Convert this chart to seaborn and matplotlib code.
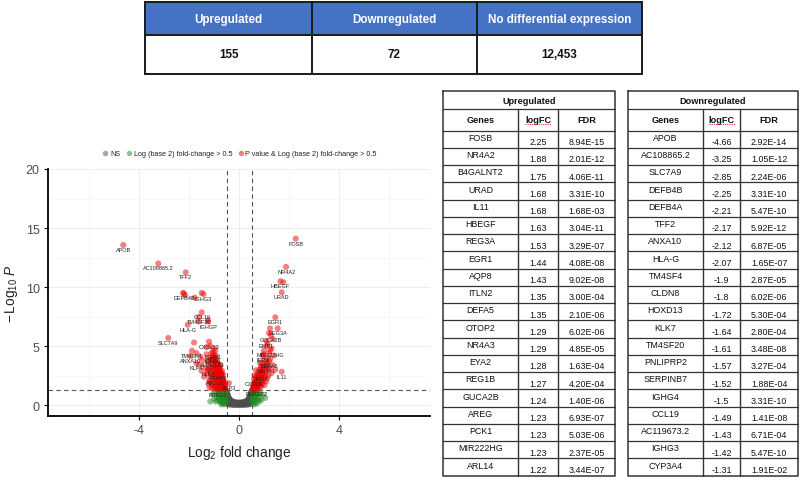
import matplotlib
matplotlib.use("Agg")
import matplotlib.pyplot as plt
import seaborn as sns
import pandas as pd
from matplotlib.patches import Rectangle

# ---------------- data ----------------
summary_headers = ["Upregulated", "Downregulated", "No differential expression"]
summary_values = ["155", "72", "12,453"]

up_genes = ["FOSB", "NR4A2", "B4GALNT2", "URAD", "IL11", "HBEGF", "REG3A", "EGR1", "AQP8", "ITLN2",
            "DEFA5", "OTOP2", "NR4A3", "EYA2", "REG1B", "GUCA2B", "AREG", "PCK1", "MIR222HG", "ARL14"]
up_logfc = ["2.25", "1.88", "1.75", "1.68", "1.68", "1.63", "1.53", "1.44", "1.43", "1.35",
            "1.35", "1.29", "1.29", "1.28", "1.27", "1.24", "1.23", "1.23", "1.23", "1.22"]
up_fdr = ["8.94E-15", "2.01E-12", "4.06E-11", "3.31E-10", "1.68E-03", "3.04E-11", "3.29E-07", "4.08E-08",
          "9.02E-08", "3.00E-04", "2.10E-06", "6.02E-06", "4.85E-05", "1.63E-04", "4.20E-04", "1.40E-06",
          "6.93E-07", "5.03E-06", "2.37E-05", "3.44E-07"]

down_genes = ["APOB", "AC108865.2", "SLC7A9", "DEFB4B", "DEFB4A", "TFF2", "ANXA10", "HLA-G", "TM4SF4", "CLDN8",
              "HOXD13", "KLK7", "TM4SF20", "PNLIPRP2", "SERPINB7", "IGHG4", "CCL19", "AC119673.2", "IGHG3", "CYP3A4"]
down_logfc = ["-4.66", "-3.25", "-2.85", "-2.25", "-2.21", "-2.17", "-2.12", "-2.07", "-1.9", "-1.8",
              "-1.72", "-1.64", "-1.61", "-1.57", "-1.52", "-1.5", "-1.49", "-1.43", "-1.42", "-1.31"]
down_fdr = ["2.92E-14", "1.05E-12", "2.24E-06", "3.31E-10", "5.47E-10", "5.92E-12", "6.87E-05", "1.65E-07",
            "2.87E-05", "6.02E-06", "5.30E-04", "2.80E-04", "3.48E-08", "3.27E-04", "1.88E-04", "3.31E-10",
            "1.41E-08", "6.71E-04", "5.47E-10", "1.91E-02"]

# labelled genes in the volcano plot (log2FC, -log10 P)
label_genes = ["APOB", "AC108865.2", "TFF2", "DEFB4B", "IGHG3", "CCL19", "TM4SF20",
               "IGHGP", "HLA-G", "SLC7A9", "CXCL13", "TM4SF4", "IGHG1", "ANXA10", "IGHA1", "KLF4",
               "ALDH1A1", "KLK7", "FFAR2", "ABCG2", "ACP3", "PRKG2",
               "FOSB", "NR4A2", "HBEGF", "URAD", "EGR1", "REG3A", "GUCA2B", "EMP1", "MIR222HG",
               "IER3", "DEFA6", "NR4A1", "IL11", "IFI27", "CXCL8", "RNASE2"]
label_x = [-4.63, -3.23, -2.13, -2.20, -1.42, -1.49, -1.61,
           -1.24, -2.05, -2.83, -1.20, -1.88, -1.05, -1.95, -1.05, -1.70,
           -1.05, -1.24, -0.85, -0.95, -0.40, -0.85,
           2.27, 1.88, 1.66, 1.71, 1.45, 1.55, 1.27, 1.10, 1.25,
           0.95, 1.20, 1.10, 1.71, 0.90, 0.60, 0.70]
label_y = [13.56, 12.0, 11.24, 9.45, 9.40, 7.85, 7.45,
           7.06, 6.80, 5.68, 5.37, 4.60, 4.50, 4.15, 4.15, 3.55,
           3.85, 3.05, 2.75, 2.30, 1.85, 1.30,
           14.10, 11.70, 10.50, 9.55, 7.43, 6.50, 5.90, 5.45, 4.65,
           4.20, 3.70, 3.30, 2.82, 2.60, 2.20, 1.35]

# other significant genes (drawn unlabelled)
sig_x = [-2.24, -2.16, -1.49, -1.77,
         -0.55, -0.57, -0.60, -0.60, -0.63, -0.65, -0.66, -0.68, -0.70, -0.70, -0.72, -0.73, -0.75, -0.76,
         -0.78, -0.78, -0.80, -0.80, -0.82, -0.83, -0.85, -0.86, -0.87, -0.88, -0.90, -0.90, -0.92, -0.93,
         -0.95, -0.95, -0.97, -0.98, -1.00, -1.00, -1.02, -1.04, -1.05, -1.07, -1.08, -1.10, -1.10, -1.12,
         -1.15, -1.17, -1.20, -1.22, -1.25, -1.28, -1.30, -1.35, -1.40, -1.45, -1.50, -1.55, -1.60, -1.70,
         -1.30, -1.15, -0.95, -1.80, -1.24, -1.62, -0.62, -0.68, -0.74, -0.58, -0.66, -0.84, -0.92, -1.00,
         -0.56, -0.59, -0.61, -0.64, -0.67, -0.69, -0.71, -0.74, -0.77, -0.79, -0.81, -0.84, -0.86, -0.89,
         -0.91, -0.94, -0.96, -0.99, -1.01, -1.03, -1.06, -1.09, -1.11, -1.13, -1.16, -1.19, -1.21, -1.26,
         -0.62, -0.72, -0.82, -0.88, -0.98, -1.08, -1.18, -0.65, -0.76, -0.94,
         0.55, 0.57, 0.60, 0.60, 0.63, 0.65, 0.66, 0.68, 0.70, 0.72, 0.74, 0.75, 0.77, 0.78, 0.80, 0.82,
         0.83, 0.85, 0.87, 0.88, 0.90, 0.92, 0.93, 0.95, 0.97, 1.00, 1.00, 1.03, 1.05, 1.08, 1.10, 1.12,
         1.15, 1.18, 1.20, 1.22, 1.25, 1.30, 1.30, 1.35, 1.40, 1.45, 1.00, 1.15, 1.35, 1.20, 1.24, 1.10,
         1.77, 0.58, 0.64, 0.70, 0.62,
         0.56, 0.59, 0.61, 0.64, 0.67, 0.69, 0.71, 0.73, 0.76, 0.79, 0.81, 0.84, 0.86, 0.89, 0.91, 0.94,
         0.96, 0.99, 1.02, 1.06, 1.09, 1.13, 1.17, 0.62, 0.68, 0.75, 0.84, 0.98]
sig_y = [9.50, 9.30, 9.50, 9.10,
         1.35, 1.50, 1.40, 1.70, 1.55, 1.90, 1.35, 2.10, 1.60, 2.40, 1.80, 2.70, 2.00, 1.45,
         2.30, 3.00, 2.60, 1.70, 3.30, 2.00, 2.90, 1.50, 3.60, 2.40, 3.10, 1.90, 3.90, 2.70,
         3.40, 2.20, 1.60, 3.70, 2.90, 4.20, 2.00, 3.20, 2.50, 3.80, 1.70, 2.80, 4.40, 3.50,
         2.20, 4.00, 3.00, 1.80, 3.60, 2.60, 4.30, 3.20, 2.40, 3.80, 2.90, 4.10, 3.40, 4.40,
         4.90, 5.00, 4.60, 5.30, 7.20, 7.10, 2.20, 2.90, 3.40, 1.95, 2.60, 3.50, 4.20, 4.80,
         1.45, 1.65, 1.85, 2.05, 2.25, 1.50, 2.55, 2.85, 1.75, 2.60, 3.15, 2.15, 3.45, 2.75,
         2.35, 3.05, 3.75, 2.55, 3.35, 1.85, 3.05, 2.35, 3.85, 2.65, 3.25, 2.05, 3.75, 2.85,
         1.60, 1.45, 1.40, 1.55, 1.45, 1.40, 1.50, 2.60, 3.20, 4.00,
         1.35, 1.55, 1.40, 1.80, 1.60, 2.00, 1.40, 2.20, 1.70, 2.50, 1.90, 1.45, 2.30, 2.80, 2.00, 3.00,
         1.60, 2.50, 3.30, 2.10, 2.80, 1.80, 3.50, 2.40, 3.00, 2.20, 3.80, 2.70, 3.30, 2.00, 2.90, 4.00,
         3.50, 2.50, 4.40, 3.10, 3.90, 2.70, 4.80, 3.40, 4.20, 3.00, 4.60, 5.20, 5.60, 6.10, 6.50, 5.00,
         10.40, 1.30, 1.85, 2.05, 1.50,
         1.45, 1.65, 1.90, 1.50, 1.75, 2.35, 2.05, 1.60, 2.60, 1.75, 2.35, 1.85, 2.65, 1.55, 3.15, 2.05,
         2.65, 3.25, 1.70, 2.45, 3.55, 2.25, 3.15, 2.50, 2.95, 1.55, 3.60, 4.30]

green_x = [-0.52, -0.53, -0.55, -0.55, -0.57, -0.58, -0.60, -0.60, -0.62, -0.63, -0.65, -0.66, -0.68, -0.70,
           -0.72, -0.73, -0.75, -0.77, -0.80, -0.82, -0.85, -0.88, -0.90, -0.95, -1.00, -1.05, -1.15, -0.70,
           -0.58, -0.51, -0.54, -0.64, -0.56, -0.59, -0.61, -0.67, -0.71, -0.78, -0.83, -0.93,
           0.52, 0.53, 0.55, 0.56, 0.58, 0.60, 0.62, 0.63, 0.65, 0.67, 0.70, 0.72, 0.75, 0.78, 0.80, 0.85,
           0.90, 0.95, 1.05, 0.60, 0.70, 0.51, 0.54, 0.57, 0.61, 0.66, 0.73, 0.82]
green_y = [0.30, 0.80, 0.50, 1.10, 0.20, 0.70, 1.00, 0.40, 0.90, 0.15, 0.60, 1.20, 0.35, 0.80,
           1.10, 0.50, 0.25, 0.90, 0.60, 1.20, 0.40, 1.00, 0.70, 1.15, 0.50, 0.90, 0.30, 0.05,
           0.05, 1.25, 0.95, 0.45, 0.62, 0.88, 0.25, 1.00, 0.20, 0.40, 0.85, 0.30,
           0.35, 0.90, 0.60, 1.15, 0.20, 0.75, 1.00, 0.45, 0.90, 0.25, 0.65, 1.20, 0.40, 0.95, 0.60, 1.10,
           0.45, 0.85, 0.60, 0.05, 0.10, 1.25, 0.80, 0.50, 1.12, 0.55, 0.85, 0.30]

gray_x = [-0.49, -0.48, -0.47, -0.46, -0.45, -0.44, -0.43, -0.42, -0.41, -0.40, -0.38, -0.36, -0.34, -0.32,
          -0.30, -0.27, -0.24, -0.21, -0.18, -0.15, -0.12, -0.09, -0.06, -0.03, 0.00, 0.03, 0.06, 0.09,
          0.12, 0.15, 0.18, 0.21, 0.24, 0.27, 0.30, 0.32, 0.34, 0.36, 0.38, 0.40, 0.41, 0.42, 0.43, 0.44,
          0.45, 0.46, 0.47, 0.48, 0.49,
          -0.48, -0.44, -0.40, -0.36, -0.32, -0.28, -0.24, -0.20, -0.16, -0.12, -0.08, -0.04, 0.00, 0.04,
          0.08, 0.12, 0.16, 0.20, 0.24, 0.28, 0.32, 0.36, 0.40, 0.44, 0.48,
          -0.49, -0.48, -0.47, -0.46, -0.44, -0.42, 0.42, 0.44, 0.46, 0.47, 0.48, 0.49,
          -0.30, -0.20, -0.10, 0.00, 0.10, 0.20, 0.30]
gray_y = [1.18, 1.05, 0.98, 0.90, 0.82, 0.76, 0.70, 0.62, 0.58, 0.55, 0.50, 0.45, 0.40, 0.37,
          0.35, 0.31, 0.28, 0.26, 0.24, 0.22, 0.21, 0.21, 0.20, 0.20, 0.20, 0.20, 0.20, 0.21,
          0.21, 0.22, 0.24, 0.26, 0.28, 0.31, 0.35, 0.37, 0.40, 0.45, 0.50, 0.55, 0.58, 0.62, 0.70, 0.76,
          0.82, 0.90, 0.98, 1.05, 1.18,
          0.12, 0.08, 0.06, 0.05, 0.04, 0.03, 0.03, 0.02, 0.02, 0.02, 0.02, 0.02, 0.02, 0.02,
          0.02, 0.02, 0.02, 0.02, 0.03, 0.03, 0.04, 0.05, 0.06, 0.08, 0.12,
          0.90, 0.70, 0.50, 0.35, 0.30, 0.20, 0.20, 0.30, 0.35, 0.50, 0.70, 0.90,
          0.18, 0.12, 0.10, 0.10, 0.10, 0.12, 0.18]

group_labels = ["NS", "Log (base 2) fold-change > 0.5", "P value & Log (base 2) fold-change > 0.5"]
group_colors = ["#4D4D4D", "#228B22", "#EE0000"]

# ---------------- figure ----------------
sns.set_theme(style="white")
plt.rcParams["font.family"] = ["Liberation Sans", "DejaVu Sans"]
plt.rcParams["mathtext.fontset"] = "custom"
plt.rcParams["mathtext.rm"] = "Liberation Sans"
plt.rcParams["mathtext.it"] = "Liberation Sans:italic"

W, H = 800, 481
fig = plt.figure(figsize=(W / 100, H / 100), dpi=100)
fig.patch.set_facecolor("white")

def fx(px):
    return px / W

def fy(py):
    return 1 - py / H

# volcano axes
ax_l, ax_r, ax_t, ax_b = 48, 430, 170, 417
ax = fig.add_axes([fx(ax_l), fy(ax_b), fx(ax_r - ax_l), (ax_b - ax_t) / H])

df = pd.concat([
    pd.DataFrame({"log2FC": gray_x, "nlogP": gray_y, "group": group_labels[0]}),
    pd.DataFrame({"log2FC": green_x, "nlogP": green_y, "group": group_labels[1]}),
    pd.DataFrame({"log2FC": sig_x + label_x, "nlogP": sig_y + label_y, "group": group_labels[2]}),
], ignore_index=True)

sns.scatterplot(data=df, x="log2FC", y="nlogP", hue="group", hue_order=group_labels,
                palette=dict(zip(group_labels, group_colors)), s=19, alpha=0.5,
                linewidth=0, ax=ax, zorder=3)

for g, x, y in zip(label_genes, label_x, label_y):
    ax.annotate(g, (x, y), xytext=(0, -3.2), textcoords="offset points", ha="center", va="center",
                fontsize=4.0, color="#222222", zorder=4)

ax.set_xlim(-7.64, 7.64)
ax.set_ylim(-0.93, 20.0)
ax.set_xticks([-4, 0, 4])
ax.set_xticklabels(["-4", "0", "4"])
ax.set_yticks([0, 5, 10, 15, 20])
ax.set_xticks([-6, -2, 2, 6], minor=True)
ax.set_yticks([2.5, 7.5, 12.5, 17.5], minor=True)
ax.grid(True, which="major", color="#EBEBEB", linewidth=0.6, zorder=0)
ax.grid(True, which="minor", color="#F4F4F4", linewidth=0.4, zorder=0)
ax.set_axisbelow(True)
for s in ["top", "right"]:
    ax.spines[s].set_visible(False)
for s in ["left", "bottom"]:
    ax.spines[s].set_color("black")
    ax.spines[s].set_linewidth(1.3)
ax.tick_params(axis="both", which="major", length=3, width=0.8, color="black", labelsize=9,
               labelcolor="#4D4D4D", pad=3, left=True, bottom=True)
ax.tick_params(axis="both", which="minor", length=0)

ax.axvline(-0.5, color="#555555", linestyle=(0, (4, 3)), linewidth=0.8, zorder=2)
ax.axvline(0.5, color="#555555", linestyle=(0, (4, 3)), linewidth=0.8, zorder=2)
ax.axhline(1.3, color="#555555", linestyle=(0, (4, 3)), linewidth=0.8, zorder=2)

ax.set_xlabel(r"$\mathrm{Log}_{2}$ fold change", fontsize=9.8, color="#222222", labelpad=5)
ax.set_ylabel(r"$-\,\mathrm{Log}_{10}\ \mathit{P}$", fontsize=9.8, color="#222222")
ax.yaxis.set_label_coords(-0.074, 0.5)

handles, labels = ax.get_legend_handles_labels()
leg = ax.legend(handles, labels, loc="lower center", bbox_to_anchor=(0.5, 1.035), ncol=3,
                frameon=False, fontsize=5.2, handletextpad=0.05, columnspacing=0.6,
                markerscale=0.9, borderaxespad=0, handlelength=1.2)
for t in leg.get_texts():
    t.set_color("#222222")

# ---------------- tables (pixel coordinate overlay) ----------------
ov = fig.add_axes([0, 0, 1, 1])
ov.set_xlim(0, W)
ov.set_ylim(H, 0)
ov.axis("off")
ov.patch.set_visible(False)

# summary table
sx = [145, 312, 477, 642]
sy = [3, 36, 75]
ov.add_patch(Rectangle((sx[0], sy[0]), sx[-1] - sx[0], sy[1] - sy[0], facecolor="#4472C4",
                       edgecolor="none", zorder=1))
for xx in sx:
    ov.plot([xx, xx], [sy[0], sy[-1]], color="#1a1a1a", lw=1.4, zorder=2)
for yy in sy:
    ov.plot([sx[0], sx[-1]], [yy, yy], color="#1a1a1a", lw=1.4, zorder=2)
for i in range(3):
    cx = (sx[i] + sx[i + 1]) / 2
    ov.text(cx, (sy[0] + sy[1]) / 2, summary_headers[i], color="white", fontsize=8.4,
            fontweight="bold", ha="center", va="center", zorder=3)
    ov.text(cx, (sy[1] + sy[2]) / 2, summary_values[i], color="#111111", fontsize=8.4,
            fontweight="bold", ha="center", va="center", zorder=3)

def gene_table(cols, title, genes, fcs, fdrs):
    y_title0, y_title1, y_head1, y_end = 91.7, 110.0, 131.7, 476.7
    n = len(genes)
    rh = (y_end - y_head1) / n
    lc = "#333333"
    ov.plot([cols[0], cols[-1], cols[-1], cols[0], cols[0]],
            [y_title0, y_title0, y_end, y_end, y_title0], color=lc, lw=1.1, zorder=2)
    ov.plot([cols[0], cols[-1]], [y_title1, y_title1], color=lc, lw=0.9, zorder=2)
    ov.plot([cols[0], cols[-1]], [y_head1, y_head1], color=lc, lw=0.9, zorder=2)
    for xx in cols[1:-1]:
        ov.plot([xx, xx], [y_title1, y_end], color=lc, lw=1.0, zorder=2)
    for i in range(1, n):
        yy = y_head1 + i * rh
        ov.plot([cols[0], cols[-1]], [yy, yy], color=lc, lw=0.9, zorder=2)
    ov.text((cols[0] + cols[-1]) / 2, (y_title0 + y_title1) / 2 + 0.3, title, fontsize=6.6,
            fontweight="bold", ha="center", va="center", color="#111111")
    heads = ["Genes", "logFC", "FDR"]
    for j in range(3):
        cx = (cols[j] + cols[j + 1]) / 2
        ov.text(cx, (y_title1 + y_head1) / 2 - 0.5, heads[j], fontsize=6.6, fontweight="bold",
                ha="center", va="center", color="#111111")
    cx = (cols[1] + cols[2]) / 2
    ov.plot([cx - 13, cx + 13], [125.3, 125.3], color="#E03030", lw=0.8, linestyle=(0, (1, 1)),
            zorder=3)
    for i in range(n):
        top = y_head1 + i * rh
        ov.text((cols[0] + cols[1]) / 2, top + 0.38 * rh, genes[i], fontsize=6.4, ha="center",
                va="center", color="#111111")
        ov.text((cols[1] + cols[2]) / 2, top + 0.64 * rh, fcs[i], fontsize=6.4, ha="center",
                va="center", color="#111111")
        ov.text((cols[2] + cols[3]) / 2, top + 0.64 * rh, fdrs[i], fontsize=6.4, ha="center",
                va="center", color="#111111")

gene_table([443, 518, 558, 615], "Upregulated", up_genes, up_logfc, up_fdr)
gene_table([628, 703, 740, 798], "Downregulated", down_genes, down_logfc, down_fdr)

fig.savefig("out.png", dpi=100, facecolor="white")
